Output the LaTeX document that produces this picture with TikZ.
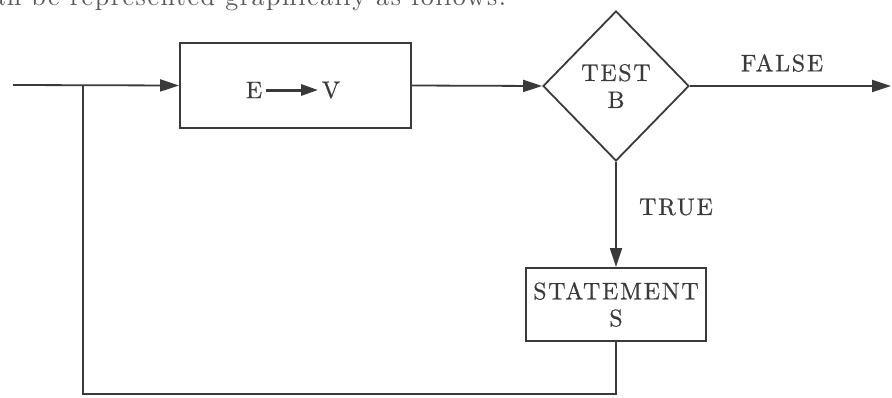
\documentclass[tikz,border=0pt]{standalone}
\usepackage{fontspec}
\usetikzlibrary{shapes.geometric,arrows.meta}
\definecolor{ink}{HTML}{3A3A3A}
\newfontfamily\lmspaced{lmroman10-regular.otf}[LetterSpace=7,FakeBold=0.6]
\newfontfamily\lmbody{lmroman10-regular.otf}[LetterSpace=6]
\newcommand{\lblfont}{\lmspaced\fontsize{24}{27}\selectfont}
\newcommand{\bodyfont}{\lmbody\fontsize{26}{30}\selectfont}
\begin{document}
\begin{tikzpicture}[x=1pt,y=-1pt,line width=1.8pt,draw=ink,
  every node/.style={text=ink,font=\lblfont,inner sep=3pt},
  arr/.style={draw=ink,-{Triangle[length=19pt,width=12pt]}},
  blk/.style={draw=ink,rectangle,inner sep=0pt,align=center}]
\useasboundingbox (0,0) rectangle (892,397);
% cut-off line of running text at the top
\node[anchor=base east,font=\bodyfont,text=ink!85,inner sep=0pt] (cap) at (507,5) {can be represented graphically as follows:};
% nodes
\coordinate (in) at (13,85);
\coordinate (j) at (83,85);
\coordinate (out) at (891,86);
\node[blk,minimum width=231pt,minimum height=85pt] (asg) at (295.5,85.5) {};
\node (E) at (254,90) {E};
\node (V) at (331,90) {V};
\node[diamond,draw=ink,minimum width=146pt,minimum height=150pt,inner sep=0pt,align=center] (test) at (616,86) {TEST\\B};
\node[blk,minimum width=180pt,minimum height=73pt] (st) at (616,304.5) {STATEMENT\\S};
\node (false) at (782,63) {FALSE};
\node (true) at (676,207) {TRUE};
% connectors
\draw[line width=3pt,-{Triangle[length=17pt,width=11pt]}] (E) -- (V);
\draw[arr] (in) -- (asg.west);
\draw[arr] (asg.east) -- (test.west);
\draw[arr] (test.east) -- (out);
\draw[arr] (test.south) -- (st.north);
\draw (st.south) -- ++(0,52) -| (j);
\end{tikzpicture}
\end{document}
